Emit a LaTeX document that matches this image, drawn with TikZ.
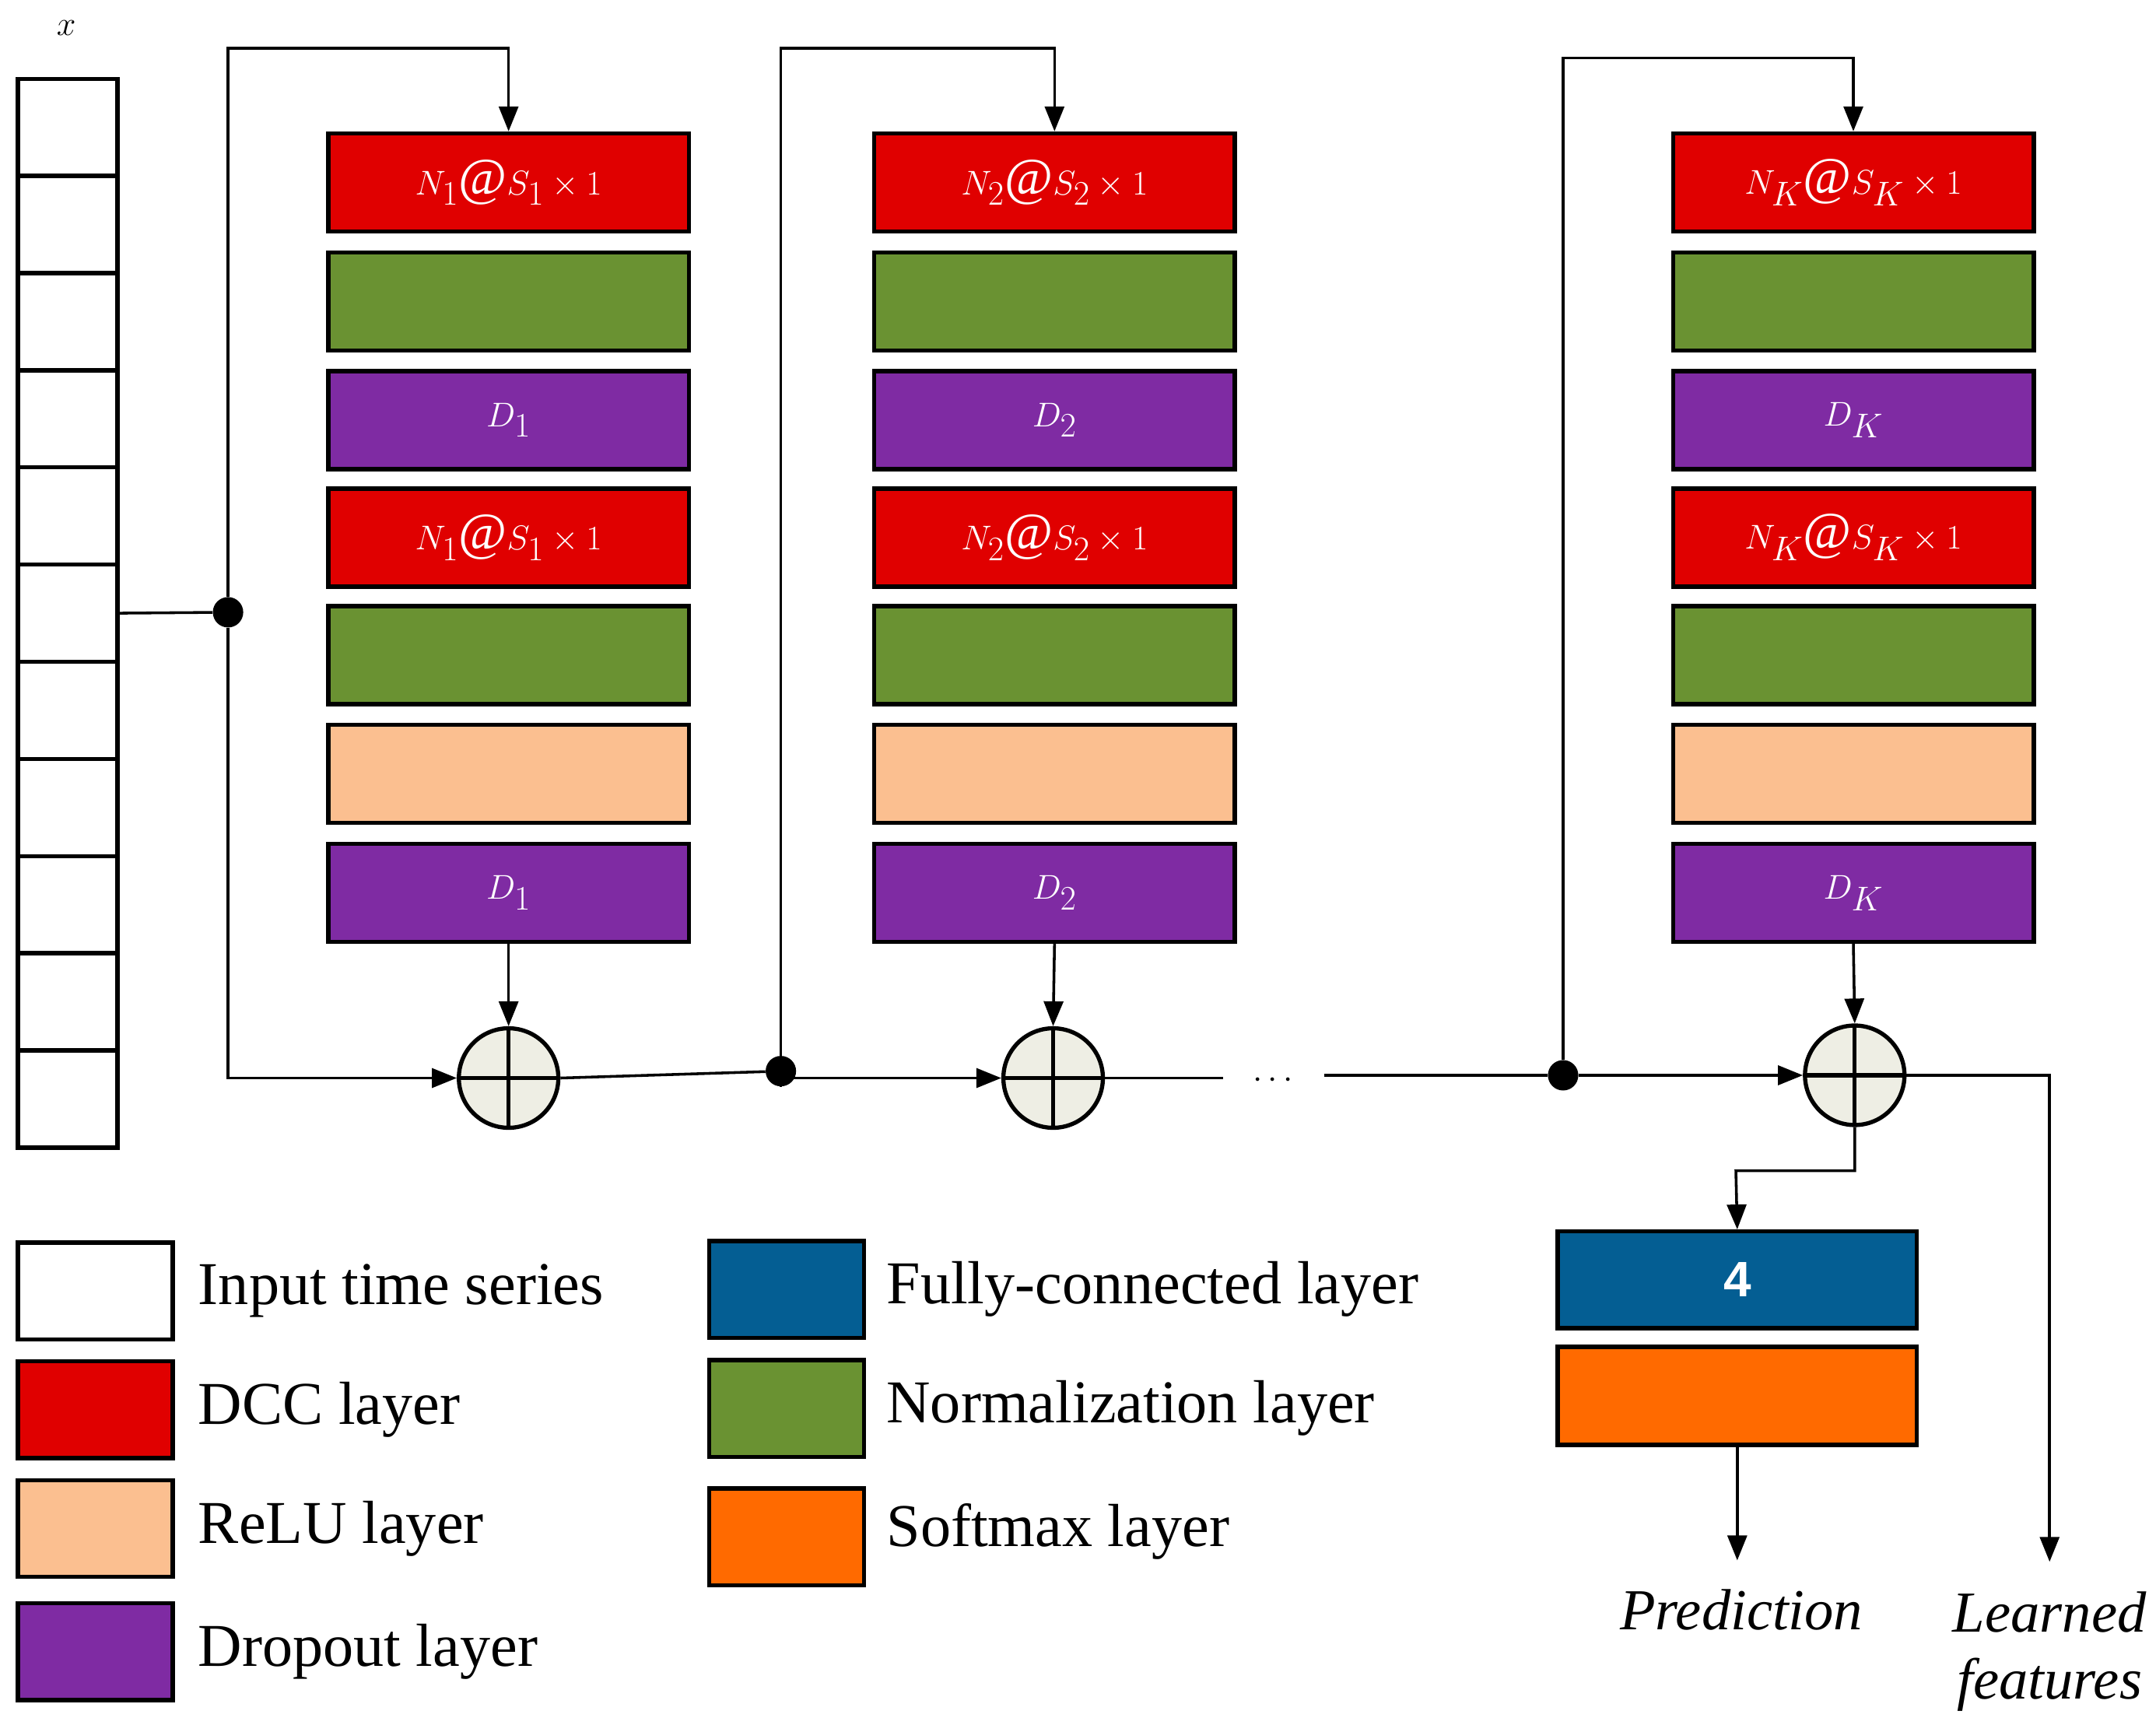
\documentclass[tikz,border=0pt]{standalone}
\usepackage{fontspec}
\setmainfont{Liberation Serif}
\newfontfamily\sansf{Liberation Sans}
\usetikzlibrary{arrows.meta}
\definecolor{cred}{HTML}{E00000}
\definecolor{cgreen}{HTML}{6A9232}
\definecolor{cpurple}{HTML}{7F2BA3}
\definecolor{cpeach}{HTML}{FBBF90}
\definecolor{cblue}{HTML}{045E93}
\definecolor{corange}{HTML}{FF6A00}
\definecolor{csum}{HTML}{EEEEE4}
\begin{document}
\begin{tikzpicture}[x=1pt,y=-1pt,
 lay/.style={draw=black,line width=3pt,minimum width=261pt,minimum height=71pt,inner sep=0pt,text=white,font=\fontsize{38}{44}\selectfont},
 leg/.style={draw=black,line width=3pt,minimum width=112pt,minimum height=70pt,inner sep=0pt},
 cell/.style={draw=black,line width=3pt,minimum width=72pt,minimum height=70.3pt,inner sep=0pt},
 sum/.style={circle,draw=black,line width=3pt,fill=csum,minimum size=72pt,inner sep=0pt,path picture={\draw[line width=3pt] (path picture bounding box.north)--(path picture bounding box.south) (path picture bounding box.west)--(path picture bounding box.east);}},
 ln/.style={line width=2pt},
 ar/.style={line width=2pt,-{Triangle[length=18pt,width=14pt]}},
 dot/.style={circle,fill=black,minimum size=22pt,inner sep=0pt},
 lt/.style={anchor=west,font=\fontsize{44}{52}\selectfont},
 it/.style={font=\fontsize{42}{48}\selectfont\itshape}]
\useasboundingbox (0,0) rectangle (1560,1253);
% input
\foreach \i in {0,...,10}{\node[cell] (in\i) at (49,{92.15+70.3*\i}) {};}
\node[font=\fontsize{46}{50}\selectfont] (xl) at (48,20) {$x$};
% blocks
\foreach \b/\cx/\s in {1/368/1,2/763/2,3/1341/K}{
 \node[lay,fill=cred] (b\b r1) at (\cx,132) {$N_{\s}@S_{\s}\times 1$};
 \node[lay,fill=cgreen] (b\b g1) at (\cx,218) {};
 \node[lay,fill=cpurple] (b\b d1) at (\cx,304) {$D_{\s}$};
 \node[lay,fill=cred] (b\b r2) at (\cx,389) {$N_{\s}@S_{\s}\times 1$};
 \node[lay,fill=cgreen] (b\b g2) at (\cx,474) {};
 \node[lay,fill=cpeach] (b\b p) at (\cx,560) {};
 \node[lay,fill=cpurple] (b\b d2) at (\cx,646) {$D_{\s}$};
}
\node[sum] (s1) at (368,780) {};
\node[sum] (s2) at (762,780) {};
\node[sum] (s3) at (1342,778) {};
\node[dot] (t1) at (165,443) {};
\node[dot] (t2) at (565,775) {};
\node[dot] (t3) at (1131,778) {};
\draw[ln] (in5.east) -- (t1);
\draw[ar] (t1) |- (165,35) -| (b1r1.north);
\draw[ar] (t1) |- (s1.west);
\draw[ar] (b1d2.south) -- (s1.north);
\draw[ln] (s1.east) -- (t2);
\draw[ar] (t2) |- (565,35) -| (b2r1.north);
\draw[ar] (t2) |- (s2.west);
\draw[ar] (b2d2.south) -- (s2.north);
\coordinate (e2) at (885,780);
\draw[ln] (s2.east) -- (e2);
\node[font=\fontsize{40}{44}\selectfont] (dots) at (921,782) {$\cdots$};
\coordinate (e3) at (958,778);
\draw[ln] (e3) -- (t3);
\draw[ar] (t3) |- (1131,42) -| (b3r1.north);
\draw[ar] (t3) -- (s3.west);
\draw[ar] (b3d2.south) -- (s3.north);
% outputs
\node[lay,fill=cblue,minimum width=260pt,minimum height=70pt,font=\sansf\fontsize{36}{40}\selectfont\bfseries] (fc) at (1257,926) {4};
\node[lay,fill=corange,minimum width=260pt,minimum height=71pt] (sm) at (1257,1010) {};
\draw[ar] (s3.south) |- (1256,847) -- (fc.north);
\node[it] (pred) at (1260,1165) {Prediction};
\node[it,align=center] (lf) at (1483,1195) {Learned\\features};
\draw[ar] (sm.south) -- ++(0,82);
\draw[ar] (s3.east) -| (1483,1130);
% legend
\node[leg,fill=white] (l1) at (69,934) {}; \node[lt] at (140,934) {Input time series};
\node[leg,fill=cred] (l2) at (69,1020) {}; \node[lt] at (140,1020) {DCC layer};
\node[leg,fill=cpeach] (l3) at (69,1106) {}; \node[lt] at (140,1106) {ReLU layer};
\node[leg,fill=cpurple] (l4) at (69,1195) {}; \node[lt] at (140,1195) {Dropout layer};
\node[leg,fill=cblue] (l5) at (569,933) {}; \node[lt] at (638,933) {Fully-connected layer};
\node[leg,fill=cgreen] (l6) at (569,1019) {}; \node[lt] at (638,1019) {Normalization layer};
\node[leg,fill=corange] (l7) at (569,1112) {}; \node[lt] at (638,1108) {Softmax layer};
\end{tikzpicture}
\end{document}
